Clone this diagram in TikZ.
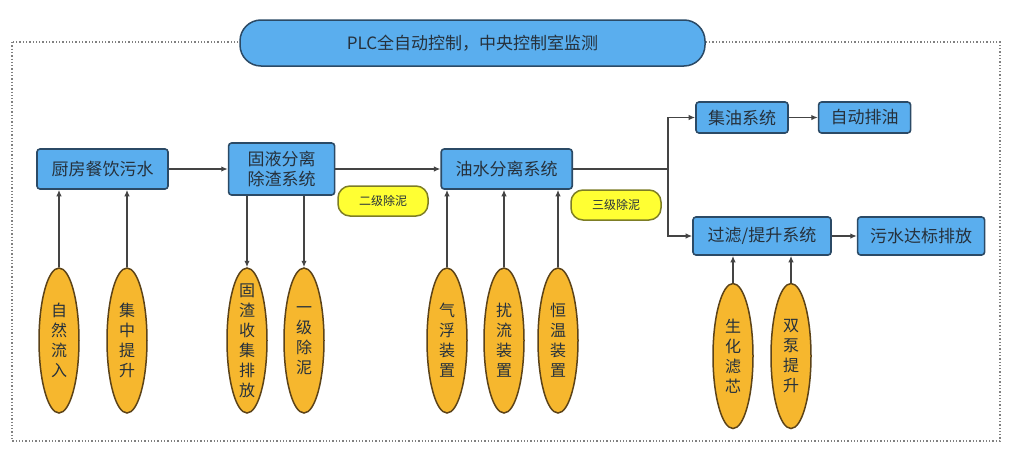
\documentclass[tikz,border=0pt]{standalone}
\usepackage{fontspec}
\setmainfont{Noto Sans CJK SC}
\usepackage{xcolor}
\usepackage{tikz}
\usetikzlibrary{positioning,arrows.meta,shapes.geometric}
\definecolor{boxblue}{HTML}{5AAEEE}
\definecolor{boxline}{HTML}{2B4A66}
\definecolor{podfill}{HTML}{F6B72E}
\definecolor{podline}{HTML}{5C4318}
\definecolor{mudfill}{HTML}{FFFF33}
\definecolor{mudline}{HTML}{7D7D25}
\definecolor{wire}{HTML}{444444}
\definecolor{txt}{HTML}{26313C}
\tikzset{
  proc/.style={draw=boxline,line width=1.6pt,rounded corners=3pt,fill=boxblue,align=center,inner sep=2pt,text=txt,font=\fontsize{17}{20}\selectfont},
  pod/.style={ellipse,draw=podline,line width=1.5pt,fill=podfill,align=center,inner xsep=5pt,inner ysep=-10pt,minimum width=40pt,minimum height=145pt,text=txt,font=\fontsize{16}{20}\selectfont},
  mud/.style={draw=mudline,line width=1.5pt,rounded corners=12pt,fill=mudfill,align=center,minimum width=90pt,minimum height=30pt,text=txt,font=\fontsize{12}{14}\selectfont},
  flow/.style={draw=wire,line width=1.6pt,-{Latex[length=6.5pt,width=5.5pt]}},
}
\begin{document}
\begin{tikzpicture}[x=1pt,y=-1pt]
  \useasboundingbox[fill=white] (0,0) rectangle (1010,466);
  \draw[gray,dotted,line width=1.3pt] (12,42) rectangle (1000,441);
  \node[draw=boxline,line width=1.5pt,rounded corners=21pt,fill=boxblue,text=txt,minimum width=465pt,minimum height=46pt,font=\fontsize{17}{20}\selectfont] (plc) at (472.5,43) {PLC全自动控制，中央控制室监测};

  \node[proc,minimum width=131pt,minimum height=40pt] (kitchen) at (102.5,169) {厨房餐饮污水};
  \node[proc,minimum width=106pt,minimum height=52pt,right=59pt of kitchen] (solid) {固液分离\\除渣系统};
  \node[proc,minimum width=131pt,minimum height=40pt,right=105pt of solid] (oilsep) {油水分离系统};
  \coordinate (branch) at (668,169);
  \node[proc,minimum width=92pt,minimum height=31pt] (oilcol) at (742,117.5) {集油系统};
  \node[proc,minimum width=92pt,minimum height=31pt,right=29pt of oilcol] (oilout) {自动排油};
  \node[proc,minimum width=138pt,minimum height=38pt] (filter) at (762,236) {过滤/提升系统};
  \node[proc,minimum width=127pt,minimum height=38pt,right=25pt of filter] (outlet) {污水达标排放};

  \node[mud] (mud2) at (383,201) {二级除泥};
  \node[mud] (mud3) at (616,205) {三级除泥};

  \node[pod] (natural) at (59,340.5) {自\\然\\流\\入};
  \node[pod] (lift) at (127,340.5) {集\\中\\提\\升};
  \node[pod] (slag) at (247,340.5) {固\\渣\\收\\集\\排\\放};
  \node[pod] (mud1) at (304,340.5) {一\\级\\除\\泥};
  \node[pod] (float) at (447,340.5) {气\\浮\\装\\置};
  \node[pod] (turb) at (504,340.5) {扰\\流\\装\\置};
  \node[pod] (heat) at (558,340.5) {恒\\温\\装\\置};
  \node[pod] (bio) at (733,356) {生\\化\\滤\\芯};
  \node[pod] (pump) at (791,356) {双\\泵\\提\\升};

  \draw[flow] (kitchen) -- (solid);
  \draw[flow] (solid) -- (oilsep);
  \draw[flow] (oilsep) -- (branch) |- (oilcol);
  \draw[flow] (branch) |- (filter);
  \draw[flow] (oilcol) -- (oilout);
  \draw[flow] (filter) -- (outlet);

  \draw[flow] (natural) -- (natural |- kitchen.south);
  \draw[flow] (lift) -- (lift |- kitchen.south);
  \draw[flow] (slag |- solid.south) -- (slag);
  \draw[flow] (mud1 |- solid.south) -- (mud1);
  \draw[flow] (float) -- (float |- oilsep.south);
  \draw[flow] (turb) -- (turb |- oilsep.south);
  \draw[flow] (heat) -- (heat |- oilsep.south);
  \draw[flow] (bio) -- (bio |- filter.south);
  \draw[flow] (pump) -- (pump |- filter.south);
\end{tikzpicture}
\end{document}
